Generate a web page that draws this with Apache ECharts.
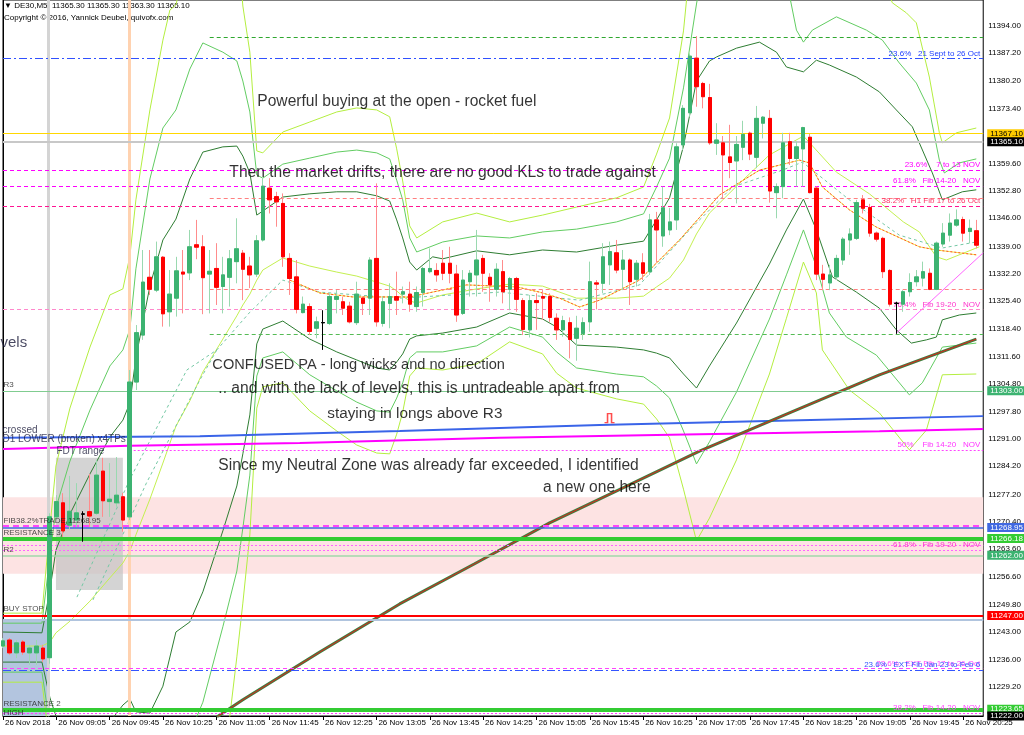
<!DOCTYPE html>
<html><head><meta charset="utf-8">
<script src="https://cdn.jsdelivr.net/npm/echarts@6/dist/echarts.min.js"></script>
<style>html,body{margin:0;padding:0;background:#fff}#c{width:1024px;height:735px}</style>
</head><body><div id="c"></div>
<script>
// ---------- DATA ----------
const xTickLabels = ["26 Nov 2018","26 Nov 09:05","26 Nov 09:45","26 Nov 10:25","26 Nov 11:05","26 Nov 11:45","26 Nov 12:25","26 Nov 13:05","26 Nov 13:45","26 Nov 14:25","26 Nov 15:05","26 Nov 15:45","26 Nov 16:25","26 Nov 17:05","26 Nov 17:45","26 Nov 18:25","26 Nov 19:05","26 Nov 19:45","26 Nov 20:25"];
const yTicks = [11394.00,11387.20,11380.20,11373.40,11366.40,11359.60,11352.80,11346.00,11339.00,11332.20,11325.40,11318.40,11311.60,11304.80,11297.80,11291.00,11284.20,11277.20,11270.40,11263.60,11256.60,11249.80,11243.00,11236.00,11229.20,11222.40];

const opens  = [11239.4,11240.9,11237.7,11240.4,11237.7,11237.7,11238.9,11236.5,11271.6,11275.1,11269.5,11270.8,11272.3,11272.9,11272.5,11283.0,11275.4,11275.1,11276.6,11271.6,11305.2,11316.9,11331.3,11328.1,11336.3,11322.7,11326.1,11332.6,11332.4,11339.4,11338.9,11332.1,11333.5,11329.0,11331.3,11335.2,11337.3,11334.1,11332.1,11340.6,11353.5,11351.4,11349.7,11336.0,11331.4,11322.5,11324.0,11318.6,11320.0,11319.8,11325.8,11325.2,11324.1,11320.0,11326.1,11326.1,11336.0,11319.8,11324.8,11326.5,11327.1,11327.1,11324.0,11327.5,11332.7,11333.0,11334.8,11334.8,11332.1,11322.3,11330.2,11331.9,11336.0,11331.3,11328.3,11332.7,11328.3,11331.0,11325.5,11318.2,11325.5,11326.5,11326.5,11321.1,11318.2,11320.0,11316.1,11317.3,11320.2,11329.9,11329.8,11334.4,11337.4,11333.3,11335.6,11330.8,11334.9,11332.7,11345.6,11341.6,11343.1,11345.6,11364.3,11372.3,11385.9,11379.6,11376.1,11364.7,11364.8,11361.3,11360.3,11363.7,11367.2,11361.2,11369.7,11370.9,11352.4,11353.9,11365.1,11360.9,11363.3,11366.2,11353.5,11332.1,11329.9,11331.4,11335.6,11340.6,11341.0,11350.6,11348.7,11342.3,11341.0,11333.0,11324.8,11324.6,11327.7,11330.2,11331.1,11332.3,11328.3,11339.6,11341.8,11344.3,11345.7,11342.7,11342.9];
const highs  = [11241.4,11241.4,11240.9,11240.9,11239.7,11240.9,11239.7,11272.5,11277.0,11277.5,11281.8,11280.0,11273.0,11282.3,11285.8,11286.3,11285.0,11286.5,11277.6,11308.2,11319.4,11338.1,11338.1,11340.2,11336.6,11333.1,11336.4,11338.1,11343.1,11345.6,11341.8,11338.1,11339.8,11336.4,11338.1,11346.0,11338.1,11336.4,11341.8,11356.0,11356.0,11352.6,11352.2,11337.3,11335.6,11326.5,11324.8,11321.5,11323.1,11327.3,11328.1,11326.5,11325.2,11330.2,11326.5,11336.3,11354.7,11326.5,11329.8,11332.7,11329.0,11330.2,11329.0,11333.9,11338.5,11334.8,11338.1,11338.9,11334.4,11333.1,11333.1,11343.1,11336.9,11332.3,11334.8,11335.6,11331.4,11331.4,11326.1,11326.9,11327.3,11328.1,11327.3,11322.3,11321.7,11321.3,11321.7,11321.3,11335.2,11330.6,11339.8,11340.2,11340.6,11338.1,11336.0,11335.6,11337.3,11347.1,11347.6,11353.9,11348.6,11364.7,11374.2,11387.1,11391.4,11380.0,11379.5,11369.7,11366.5,11369.3,11366.5,11370.3,11367.6,11374.0,11371.5,11373.0,11354.7,11367.3,11367.3,11365.1,11368.8,11367.0,11354.0,11334.4,11334.4,11336.9,11341.3,11343.5,11350.6,11351.8,11349.6,11342.7,11341.4,11333.3,11325.2,11328.1,11332.3,11333.1,11335.2,11333.5,11340.2,11344.8,11347.2,11348.2,11346.4,11345.7,11345.6];
const lows   = [11238.9,11237.2,11236.4,11237.2,11234.7,11234.7,11235.4,11235.0,11270.8,11266.6,11268.5,11269.1,11265.4,11269.1,11272.1,11271.6,11271.6,11274.1,11267.9,11270.8,11303.2,11315.7,11326.9,11327.6,11319.0,11319.0,11321.5,11322.3,11330.6,11335.8,11322.1,11322.3,11324.4,11322.3,11324.0,11329.8,11325.6,11328.6,11331.4,11340.2,11347.2,11343.9,11333.9,11326.9,11322.3,11322.3,11316.9,11316.1,11313.2,11319.4,11322.3,11321.9,11319.8,11319.4,11321.9,11321.9,11319.0,11319.0,11318.6,11321.9,11324.8,11322.7,11322.7,11324.0,11332.3,11330.2,11330.6,11329.8,11320.2,11321.9,11326.5,11326.5,11327.7,11325.2,11326.5,11324.8,11323.1,11322.7,11316.9,11316.3,11318.2,11320.7,11320.2,11315.7,11316.5,11311.1,11310.5,11315.7,11317.7,11323.3,11327.3,11329.4,11332.3,11328.1,11324.4,11329.0,11330.6,11331.9,11335.0,11338.9,11341.8,11343.1,11363.0,11371.3,11373.8,11373.4,11364.3,11361.8,11351.0,11356.0,11349.7,11360.5,11360.5,11358.5,11365.9,11349.9,11346.0,11351.0,11359.3,11353.9,11353.9,11352.2,11330.6,11328.1,11328.1,11330.6,11334.4,11336.9,11340.6,11347.2,11341.4,11340.2,11331.1,11324.0,11317.2,11322.7,11326.5,11329.0,11329.0,11328.1,11328.1,11338.9,11340.2,11343.9,11340.2,11339.8,11338.5];
const closes = [11240.7,11237.7,11240.2,11237.9,11238.9,11239.4,11236.2,11271.6,11275.4,11268.1,11273.0,11272.6,11272.3,11271.8,11282.0,11275.6,11276.0,11277.0,11270.8,11305.2,11317.5,11330.1,11328.3,11336.4,11322.2,11327.1,11332.9,11332.1,11338.9,11338.8,11331.2,11332.8,11328.8,11331.9,11335.9,11338.4,11333.3,11331.9,11340.4,11354.0,11350.6,11350.1,11336.4,11331.0,11323.3,11324.6,11317.8,11320.2,11320.0,11326.5,11326.5,11323.6,11320.2,11327.1,11324.8,11335.6,11320.2,11325.2,11326.5,11325.6,11327.7,11324.6,11327.5,11333.5,11333.5,11331.9,11332.3,11332.3,11321.9,11330.6,11332.3,11335.6,11332.3,11329.4,11333.3,11327.7,11331.0,11325.8,11318.3,11325.5,11325.0,11326.1,11321.3,11318.2,11320.5,11315.8,11318.6,11320.0,11330.2,11329.6,11336.4,11337.7,11333.1,11335.6,11330.2,11334.8,11332.3,11345.6,11343.1,11348.6,11345.1,11363.8,11373.4,11386.4,11378.8,11376.3,11364.8,11365.5,11361.8,11359.9,11364.4,11366.9,11362.0,11370.9,11371.2,11352.8,11353.9,11364.8,11360.9,11363.8,11368.6,11352.4,11332.1,11330.8,11331.9,11336.0,11340.8,11342.1,11349.9,11348.5,11342.3,11340.8,11332.7,11324.6,11324.8,11327.7,11330.0,11331.4,11332.7,11328.3,11339.8,11342.3,11344.8,11345.6,11342.3,11343.5,11339.3];

// indicator lines: [barIndex, price]
const dgUpper = [[0,11242.9],[5.84,11242.7],[7.04,11253.4],[7.94,11263.3],[10.04,11272.3],[13.04,11282.3],[16.03,11291.5],[17.98,11295.7],[19.03,11300.0],[19.93,11311.2],[22.03,11329.1],[23.98,11340.6],[25.93,11345.8],[28.02,11355.8],[29.97,11362.5],[32.97,11363.8],[35.07,11364.0],[35.97,11361.5],[37.02,11357.3],[38.06,11346.8],[38.96,11347.8],[41.96,11351.3],[46.01,11352.1],[50.05,11352.6],[53.05,11352.6],[56.05,11351.6],[57.99,11350.3],[59.04,11345.6],[59.94,11341.1],[60.99,11335.1],[62.04,11333.1],[64.44,11336.4],[65.94,11335.9],[71.03,11337.9],[75.98,11336.9],[80.92,11338.1],[86.02,11337.6],[92.01,11339.3],[96.06,11340.3],[98.01,11345.6],[99.96,11351.1],[102.05,11364.0],[104.0,11380.2],[105.95,11385.2],[107.0,11386.2],[110.0,11388.4],[113.44,11389.9],[115.99,11387.4],[117.49,11383.7],[120.04,11382.5],[121.98,11385.4],[123.93,11384.2],[127.98,11381.2],[131.43,11377.5],[133.97,11373.0],[136.37,11368.8],[139.37,11357.3],[140.87,11350.6],[143.86,11352.6],[145.96,11353.1]];
const dgLower = [[0,11235.4],[5.84,11235.4],[7.04,11226.5],[7.94,11222.0],[10.04,11218.5],[16.03,11220.5],[17.98,11224.7],[19.03,11226.2],[19.93,11223.0],[22.03,11222.7],[23.98,11229.4],[25.93,11242.9],[28.02,11245.4],[29.97,11252.9],[32.97,11268.1],[35.07,11279.3],[35.97,11287.3],[37.02,11297.0],[38.06,11314.7],[38.96,11318.4],[41.96,11320.4],[46.01,11315.9],[50.05,11312.7],[53.05,11310.7],[56.05,11308.7],[57.99,11308.2],[59.04,11310.2],[59.94,11312.2],[60.99,11315.9],[62.04,11316.7],[65.94,11317.4],[71.03,11318.9],[75.98,11322.4],[80.92,11320.9],[83.02,11318.9],[86.02,11314.4],[92.01,11313.9],[96.06,11313.2],[98.01,11312.4],[99.96,11311.2],[102.05,11307.2],[104.0,11303.7],[105.95,11309.2],[110.0,11319.9],[114.94,11334.6],[117.49,11343.1],[120.04,11350.8],[121.98,11343.1],[124.38,11331.4],[127.98,11327.6],[131.43,11323.6],[133.97,11318.2],[136.22,11314.9],[138.47,11315.7],[139.97,11316.4],[140.87,11320.7],[143.41,11321.9],[145.96,11322.4]];
const mgUpper = [[0,11245.1],[5.84,11245.1],[7.04,11261.8],[7.94,11273.8],[10.04,11285.5],[13.04,11298.2],[16.03,11309.2],[17.98,11313.2],[19.03,11318.4],[19.93,11333.4],[22.03,11355.8],[23.98,11368.5],[25.93,11373.0],[28.02,11383.2],[29.97,11389.7],[32.97,11387.4],[35.07,11385.2],[35.97,11380.2],[37.02,11372.5],[38.06,11356.8],[38.96,11356.0],[41.96,11359.5],[46.01,11361.0],[50.05,11362.5],[53.05,11363.0],[56.05,11362.3],[57.99,11360.8],[59.04,11355.5],[59.94,11350.6],[60.99,11341.1],[62.04,11337.6],[65.94,11340.1],[71.03,11341.6],[75.98,11341.1],[80.92,11342.6],[86.02,11343.3],[92.01,11345.1],[96.06,11347.1],[98.01,11353.8],[99.96,11361.0],[102.05,11378.5],[104.0,11399.4],[104.9,11407.9],[117.19,11407.9],[118.99,11392.9],[120.04,11389.9],[121.38,11392.9],[124.98,11396.2],[129.48,11392.9],[131.88,11390.4],[134.42,11384.7],[136.97,11379.7],[138.92,11373.0],[140.42,11360.5],[141.17,11357.3],[143.41,11359.8],[145.96,11360.8]];
const mgLower = [[0,11232.9],[5.84,11232.9],[7.04,11219.5],[8.54,11214.7],[27.27,11214.7],[28.02,11217.7],[29.97,11225.4],[32.97,11244.2],[35.07,11258.1],[35.97,11268.8],[37.02,11282.0],[38.06,11306.7],[38.96,11311.2],[41.96,11312.7],[46.01,11307.0],[50.05,11303.0],[53.05,11300.2],[56.05,11298.0],[57.99,11297.7],[59.04,11301.2],[59.94,11305.0],[60.99,11311.2],[62.04,11312.7],[65.94,11312.7],[71.03,11314.2],[75.98,11318.9],[80.92,11316.4],[83.02,11312.7],[86.02,11308.7],[92.01,11307.2],[96.06,11306.5],[98.01,11304.2],[99.96,11301.2],[102.05,11293.0],[104.0,11284.8],[105.95,11290.3],[110.0,11302.7],[114.94,11320.9],[117.49,11331.9],[120.04,11343.1],[121.98,11333.9],[123.93,11322.4],[126.48,11316.4],[130.98,11311.9],[135.92,11302.0],[137.87,11305.0],[140.87,11313.9],[145.96,11314.9]];
const ygUpper = [[0,11247.6],[5.84,11247.6],[7.04,11269.1],[7.94,11284.3],[10.04,11298.7],[13.04,11313.9],[16.03,11326.9],[17.98,11328.4],[19.03,11336.6],[19.93,11350.6],[22.03,11373.0],[23.98,11390.4],[25.03,11397.9],[25.93,11399.2],[27.27,11407.9],[35.52,11407.9],[35.97,11398.9],[37.02,11387.4],[38.06,11362.8],[38.96,11362.3],[41.96,11367.5],[46.01,11370.0],[50.05,11372.5],[53.05,11373.5],[56.05,11373.0],[57.99,11371.3],[59.04,11363.3],[59.94,11355.3],[60.99,11344.1],[62.04,11341.1],[65.94,11345.1],[71.03,11347.3],[75.98,11345.1],[80.92,11346.8],[86.02,11348.8],[92.01,11351.1],[96.06,11353.8],[98.01,11362.0],[99.96,11371.0],[102.05,11392.7],[102.95,11407.9],[131.43,11407.9],[133.37,11399.7],[135.47,11397.2],[136.97,11394.7],[138.92,11381.2],[140.42,11367.3],[140.87,11364.8],[142.97,11367.3],[145.96,11368.5]];
const ygLower = [[0,11230.4],[5.84,11230.4],[7.04,11214.7],[33.27,11214.7],[34.02,11222.0],[35.07,11236.7],[35.97,11250.1],[37.02,11267.1],[38.06,11298.7],[38.96,11304.0],[41.96,11305.0],[46.01,11298.0],[50.05,11293.0],[53.05,11289.5],[56.05,11287.5],[57.99,11287.3],[59.04,11292.2],[59.94,11297.7],[60.99,11306.7],[62.04,11308.7],[65.94,11308.2],[71.03,11309.7],[75.98,11315.2],[80.92,11312.2],[83.02,11307.4],[86.02,11303.7],[92.01,11301.0],[96.06,11299.7],[98.01,11296.0],[99.96,11291.3],[102.05,11278.5],[104.0,11265.6],[105.95,11271.3],[110.0,11285.8],[114.94,11307.2],[117.49,11321.1],[120.04,11335.1],[121.98,11327.4],[122.88,11313.2],[126.93,11303.2],[131.43,11297.5],[135.92,11288.3],[138.47,11293.2],[140.87,11307.0],[145.96,11307.2]];
const ygMid = [[0,11239.4],[5.84,11239.4],[7.04,11240.4],[7.94,11242.7],[10.04,11245.6],[13.04,11250.6],[16.03,11256.4],[17.98,11260.1],[19.03,11263.1],[19.93,11267.1],[22.03,11276.0],[23.98,11285.0],[25.93,11294.2],[28.02,11300.5],[29.97,11307.7],[32.97,11315.9],[35.07,11321.7],[35.97,11324.4],[37.02,11327.1],[38.06,11330.6],[38.96,11333.1],[41.96,11336.1],[46.01,11334.1],[50.05,11332.6],[53.05,11331.6],[56.05,11330.1],[57.99,11329.1],[59.04,11327.9],[59.94,11326.6],[60.99,11325.4],[62.04,11324.9],[65.94,11326.9],[71.03,11328.4],[75.98,11329.6],[80.92,11329.1],[86.02,11326.1],[92.01,11326.1],[96.06,11326.6],[98.01,11328.9],[99.96,11331.1],[102.05,11335.6],[104.0,11342.1],[105.95,11347.3],[110.0,11354.0],[114.94,11361.8],[120.04,11366.5],[124.98,11357.5],[129.93,11352.1],[135.02,11345.1],[137.42,11342.6],[139.97,11336.4],[141.47,11335.6],[146.41,11338.9]];
const redMA = [[43.01,11330.6],[47.5,11327.4],[52.45,11326.4],[60.99,11326.4],[69.53,11329.4],[77.03,11328.9],[80.47,11327.6],[83.47,11326.1],[86.47,11323.9],[89.46,11325.6],[95.45,11330.6],[101.45,11340.6],[107.45,11351.8],[113.44,11358.0],[119.44,11360.5],[120.94,11359.8],[122.88,11353.8],[126.93,11348.1],[130.98,11343.8],[137.42,11338.9],[139.97,11338.1],[145.96,11336.9]];
const aquaMA = [[11.09,11251.6],[19.03,11281.0],[27.57,11308.2],[32.07,11313.2],[37.02,11322.6],[41.96,11330.6],[47.5,11327.6],[59.49,11326.1],[74.48,11327.6],[86.47,11325.6],[95.45,11329.4],[102.95,11343.1],[109.4,11353.8],[116.89,11358.0],[119.89,11360.0],[126.93,11350.6],[134.42,11341.8],[140.87,11338.6],[145.96,11340.1]];
const aquaMA2 = [[13.49,11250.9],[21.5,11280.0],[29.52,11305.7],[32.07,11313.2]];
const sma200 = [[32.07,11221.7],[35.97,11226.0],[47.5,11237.9],[59.49,11249.9],[70.73,11259.9],[81.97,11270.1],[93.21,11279.0],[104.45,11288.0],[117.94,11297.5],[131.43,11307.0],[145.96,11315.9]];
const d1Lower = [[0,11291.3],[29.52,11291.7],[59.49,11293.0],[89.46,11294.5],[119.44,11295.7],[147,11296.7]];
const magentaLine = [[0,11288.5],[19.03,11289.3],[44.51,11290.0],[74.48,11291.3],[104.45,11292.2],[131.43,11292.9],[147,11293.5]];
const trendLine = [[133.97,11317.4],[147,11337.4]];

const levelPrices = [11391.2,11385.8,11367.10,11365.10,11358.0,11354.05,11351.1,11349.1,11328.4,11323.3,11317.2,11303.00,11288.3,11269.4,11268.95,11266.18,11264.6,11263.3,11262.00,11247.00,11246.0,11233.8,11233.4,11223.65,11222.7,11222.00];
const levelTexts = ["","23.6%   21 Sept to 26 Oct","","","23.6%    7 to 13 NOV","61.8%   Fib 14-20   NOV","","38.2%   H1 Fib 17 to 26 Oct","","76.4%   Fib 19-20   NOV","","","50%    Fib 14-20   NOV","","","","","61.8%   Fib 19-20   NOV","","","","23.6%   EXT Fib 17 to 26 Oct","23.6%   EXT Fib Jan 23 to Feb 6","","38.2%   Fib 14-20   NOV",""];

const noteTexts = ["Powerful buying at the open - rocket fuel","Then the market drifts, there are no good KLs to trade against","CONFUSED PA - long wicks and no direction",".. and with the lack of levels, this is untradeable apart from","staying in longs above R3","Since my Neutral Zone was already far exceeded, I identified","a new one here"];
const noteAt = [[38.06,11375.0],[33.87,11357.3],[31.32,11309.4],[32.22,11303.5],[48.55,11297.2],[32.22,11284.3],[80.92,11278.8]];
const tagTexts = ["R3","RESISTANCE 3","R2","BUY STOP","RESISTANCE 2","HIGH","FIB38.2%TRADE 11268.95"];
const tagAt = [[0,11304.5],[0,11267.6],[0,11263.3],[0,11248.6],[0,11225.0],[0,11222.7],[0,11270.6]];
const bigTags = ["vels","crossed","D1 LOWER (broken) x4TPs","FDT range"];
const bigTagAt = [[0,11314.9],[0,11293.2],[0,11291.0],[8.1,11288.0]];

// ---------- CHART ----------
const FONT = '"Liberation Sans", Arial, sans-serif';
const N = 148;
const cats = Array.from({length:N}, (_, i) => String(i));
const noteFontSizes = [15.6, 15.6, 14.6, 15.6, 15.3, 15.6, 15.6];

const lv = (i, c, w, t, extra) => Object.assign({i, c, w, t}, extra || {});
const levelStyle = [
  lv(0,'#2fa82f',1,[4,3],{from:31.0}),
  lv(1,'#3050ff',1,[8,3,2,3],{lc:'#2040ff'}),
  lv(2,'#ffd700',1,'solid',{box:'#ffcc00',bc:'#000'}),
  lv(3,'#c8c8c8',2,'solid',{box:'#000',bc:'#fff'}),
  lv(4,'#ff00ff',1,[4,3],{lc:'#ff00ff'}),
  lv(5,'#ff00ff',1,[4,3],{lc:'#ff00ff'}),
  lv(6,'#ff8080',1,[4,3],{from:31.0}),
  lv(7,'#ff1493',1,[4,3],{lc:'#ff3366'}),
  lv(8,'#ff8080',1,[4,3],{from:31.0}),
  lv(9,'#ff88cc',1,[4,3],{lc:'#ff33cc'}),
  lv(10,'#55bb55',1,[4,3],{from:31.0}),
  lv(11,'#80cc90',1,'solid',{box:'#3cb371',bc:'#fff'}),
  lv(12,'#ff44ff',1,[2,2],{from:19.0,lc:'#ff33ff'}),
  lv(13,'#ff44ff',2,[6,4]),
  lv(14,'#4169e1',1.5,'solid',{box:'#4169e1',bc:'#fff'}),
  lv(15,'#33cc33',4,'solid',{box:'#33cc33',bc:'#fff'}),
  lv(16,'#ff66ff',1,[2,2]),
  lv(17,'#ff66ff',1,[2,2],{lc:'#ff33cc'}),
  lv(18,'#a0d8aa',1.5,'solid',{box:'#3cb371',bc:'#fff'}),
  lv(19,'#ff0000',2,'solid',{box:'#ff0000',bc:'#fff'}),
  lv(20,'#b0c4de',2,'solid'),
  lv(21,'#ff44ff',1,[4,3],{lc:'#ff44ff'}),
  lv(22,'#3355ff',1,[8,3,2,3],{lc:'#3355ff'}),
  lv(23,'#33cc33',4,'solid',{box:'#33cc33',bc:'#fff'}),
  lv(24,'#ff44ff',1,[2,2],{lc:'#ff44ff'}),
  lv(25,'rgba(0,0,0,0)',1,'solid',{box:'#000',bc:'#fff'})
];

const levelData = levelStyle.map(s => {
  const v = levelPrices[s.i];
  const ls = {color:s.c, width:s.w, type:s.t};
  let label = {show:false};
  if (s.box) label = {show:true, position:'end', distance:4, formatter:v.toFixed(2), backgroundColor:s.box, color:s.bc, padding:[1,3,0,3], fontSize:8, fontFamily:FONT};
  else if (s.lc) label = {show:true, position:'insideEndTop', distance:[3,1], formatter:levelTexts[s.i], color:s.lc, fontSize:8, fontFamily:FONT};
  if (s.from !== undefined) {
    return [{coord:[s.from, v], lineStyle:ls, label}, {coord:[147, v], lineStyle:ls, label}];
  }
  return {yAxis:v, lineStyle:ls, label};
});

const verticals = [
  {xAxis:6.79, lineStyle:{color:'#d4d4d4', width:3, type:'solid'}, label:{show:false}},
  {xAxis:18.96, lineStyle:{color:'#ffd2b0', width:3, type:'solid'}, label:{show:false}}
];

const lineSeries = (data, color, width, type, z) => ({
  type:'line', xAxisIndex:1, yAxisIndex:0, data, showSymbol:false, symbol:'none',
  lineStyle:{color, width, type: type || 'solid'}, z: z || 3, silent:true, clip:true, animation:false
});

const bodyData = opens.map((o, i) => [o, closes[i], Math.min(o, closes[i]), Math.max(o, closes[i])]);
const fullData = opens.map((o, i) => [o, closes[i], lows[i], highs[i]]);

const textItems = [];
noteTexts.forEach((t, k) => textItems.push({value:noteAt[k], label:{formatter:t, fontSize:noteFontSizes[k], color:'#000'}}));
tagTexts.forEach((t, k) => textItems.push({value:tagAt[k], label:{formatter:t, fontSize:8, color:'#222'}}));
bigTags.forEach((t, k) => textItems.push({value:bigTagAt[k], label:{formatter:t, fontSize: k===0?15:10, color:'#1a1a3a', offset: k===0?[-3,0]:[-1,0]}}));

const option = {
  animation:false,
  backgroundColor:'#fff',
  grid:{left:3, right:40, top:0, bottom:19, show:true, borderColor:'#000', borderWidth:1, backgroundColor:'transparent'},
  xAxis:[
    {type:'category', data:cats, boundaryGap:false,
     axisLine:{lineStyle:{color:'#000', width:1}},
     axisTick:{show:true, interval:7, length:4, lineStyle:{color:'#000'}},
     axisLabel:{interval:7, align:'left', margin:3, padding:[0,0,0,2], fontSize:8, fontFamily:FONT, color:'#000',
       formatter:(v, i) => (i % 8 === 0 && xTickLabels[i/8]) ? xTickLabels[i/8] : ''},
     splitLine:{show:false}},
    {type:'value', min:0, max:147, show:false, axisTick:{show:false}, axisLine:{show:false}, axisLabel:{show:false}, splitLine:{show:false}}
  ],
  yAxis:{type:'value', position:'right', min:11221.97, max:11400.40,
    axisLine:{show:true, lineStyle:{color:'#000'}},
    axisTick:{show:false},
    axisLabel:{customValues:yTicks, formatter:v => v.toFixed(2), fontSize:8, fontFamily:FONT, color:'#000', margin:5},
    splitLine:{show:false}, minorTick:{show:false}, minorSplitLine:{show:false}},
  graphic:[
    {type:'text', left:4, top:2, style:{text:'\u25BC DE30,M5  11365.30 11365.30 11363.30 11365.10', font:'8px ' + FONT, fill:'#000'}},
    {type:'text', left:4, top:14, style:{text:'Copyright \u00A9 2016, Yannick Deubel, quivofx.com', font:'8px ' + FONT, fill:'#000'}}
  ],
  series:[
    {type:'line', xAxisIndex:1, yAxisIndex:0, data:[[0,11300]], showSymbol:false, symbol:'none', lineStyle:{opacity:0}, z:1, silent:true,
     markArea:{silent:true, data:[
       [{yAxis:11276.5, itemStyle:{color:'#fde3e3'}}, {yAxis:11257.4}],
       [{xAxis:0, yAxis:11245.9, itemStyle:{color:'#b3c5df'}}, {xAxis:6.6, yAxis:11221.97}],
       [{xAxis:7.94, yAxis:11286.3, itemStyle:{color:'rgba(195,195,195,0.72)'}}, {xAxis:17.98, yAxis:11253.4}]
     ]},
     markLine:{silent:true, symbol:['none','none'], label:{show:false}, data: verticals}
    },
    {type:'line', xAxisIndex:1, yAxisIndex:0, data:[[0,11300]], showSymbol:false, symbol:'none', lineStyle:{opacity:0}, z:3, silent:true,
     markLine:{silent:true, symbol:['none','none'], label:{show:false}, emphasis:{disabled:true}, data: levelData}
    },
    lineSeries(dgUpper,'#2e7d32',1),
    lineSeries(dgLower,'#2e7d32',1),
    lineSeries(mgUpper,'#62cc62',1),
    lineSeries(mgLower,'#62cc62',1),
    lineSeries(ygUpper,'#b4ee40',1),
    lineSeries(ygLower,'#b4ee40',1),
    lineSeries(ygMid,'#c4f050',1),
    lineSeries(aquaMA,'#74c8a4',1,[3,3]),
    lineSeries(aquaMA2,'#74c8a4',1,[3,3]),
    lineSeries(redMA,'#f5e84a',1),
    lineSeries(redMA,'#ff5030',1,[2,2]),
    lineSeries(d1Lower,'#3a64e8',2,'solid',3),
    lineSeries(magentaLine,'#ff00ff',2,'solid',3),
    lineSeries(sma200,'#3f7f3f',3,'solid',4),
    lineSeries(sma200,'#e02020',1,'solid',4),
    lineSeries(trendLine,'#ff66ff',1,'solid',4),
    {type:'candlestick', xAxisIndex:0, yAxisIndex:0, data:fullData, barWidth:4, z:5, silent:true,
     itemStyle:{color:'#9ad9b0', color0:'#ff8c8c', borderColor:'#9ad9b0', borderColor0:'#ff8c8c', borderColorDoji:'#000', borderWidth:1}},
    {type:'candlestick', xAxisIndex:0, yAxisIndex:0, data:bodyData, barWidth:4, z:6, silent:true,
     itemStyle:{color:'#3cb371', color0:'#ff0000', borderColor:'#3cb371', borderColor0:'#ff0000', borderColorDoji:'#000', borderWidth:1}},
    {type:'scatter', xAxisIndex:1, yAxisIndex:0, z:7, silent:true, symbolSize:1, itemStyle:{color:'rgba(0,0,0,0)'}, clip:false,
     label:{show:true, position:'right', distance:0, fontFamily:FONT},
     data:textItems},
    {type:'scatter', xAxisIndex:1, yAxisIndex:0, z:7, silent:true, clip:false,
     symbol:'path://M0,10 L3,10 L3,0 L7,0 L7,10 L10,10', symbolSize:[10,9],
     itemStyle:{color:'rgba(0,0,0,0)', borderColor:'#ff2020', borderWidth:1.5},
     data:[[90.96,11296.2]]}
  ]
};

const chart = echarts.init(document.getElementById('c'), null, {renderer:'canvas'});
chart.setOption(option);
</script>
</body></html>
